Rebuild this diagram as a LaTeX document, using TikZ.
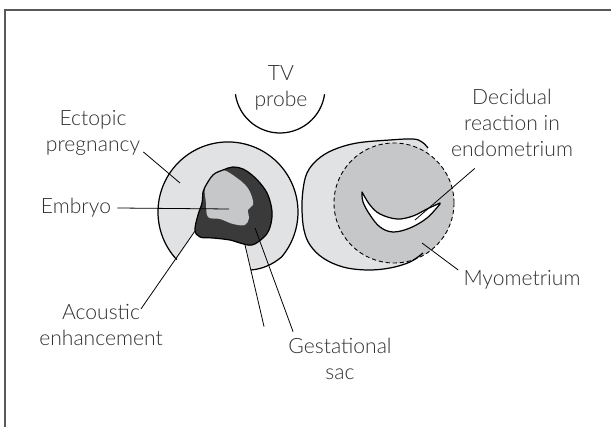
\documentclass[tikz,border=0pt]{standalone}
\usepackage{fontspec}
\setmainfont{Lato Light}

\definecolor{tissue}{HTML}{E1E2E4}
\definecolor{midgrey}{HTML}{C6C7C9}
\definecolor{sacdark}{HTML}{3A3A3A}
\definecolor{labelgrey}{HTML}{303030}

\begin{document}
\begin{tikzpicture}[%
    x = 0.2mm, y = -0.2mm,
    outline/.style = {draw = black, line width = 0.7pt, line join = round},
    leader/.style = {draw = black, line width = 0.45pt},
    caption/.style = {font = \fontsize{12}{15}\selectfont, text = labelgrey,
                      align = center, inner sep = 0pt}
]

        \useasboundingbox (0, 0) rectangle (611, 427);

        % Frame, only the top and left edges are inside the page.
        \draw[black!65, line width = 1pt] (5, 440) -- (5, 10) -- (620, 10);

        % Points where the leaders touch the drawing.
        \coordinate (ectoTip) at (180, 183);
        \coordinate (embTip) at (229, 209);
        \coordinate (acTop) at (195, 231);
        \coordinate (gsTop) at (245, 245);
        \coordinate (sacTip) at (255, 228);
        \coordinate (decTip) at (415, 220);
        \coordinate (myoTip) at (422, 243);

        % Ectopic pregnancy, the light tissue with the shadow cut out below the sac.
        \fill[tissue] (acTop) -- (176.8, 259.7)
            arc[start angle = 137, end angle = 400, radius = 70]
            .. controls (272, 265) and (262, 269) .. (251, 270) -- (gsTop) -- cycle;
        \draw[outline] (176.8, 259.7)
            arc[start angle = 137, end angle = 400, radius = 70]
            .. controls (272, 265) and (262, 269) .. (251, 270);

        % Gestational sac and the embryo inside it.
        \fill[sacdark] plot[smooth cycle, tension = 0.6] coordinates {
            (223, 170) (233, 167) (243, 169) (252, 175) (260, 183) (267, 193)
            (271, 205) (272, 217) (269, 230) (263, 238) (252, 245) (240, 243)
            (230, 240) (213, 238) (200, 237) (195, 230) (198, 215) (202, 203)
            (203, 192) (205, 187) (213, 175)};
        \fill[midgrey] plot[smooth cycle, tension = 0.6] coordinates {
            (223, 170) (237, 178) (247, 187) (252, 197) (253, 205) (248, 210)
            (249, 218) (245, 225) (233, 224) (220, 219) (208, 217) (206, 203)
            (205, 187) (213, 175)};
        \draw[outline] plot[smooth cycle, tension = 0.6] coordinates {
            (223, 170) (233, 167) (243, 169) (252, 175) (260, 183) (267, 193)
            (271, 205) (272, 217) (269, 230) (263, 238) (252, 245) (240, 243)
            (230, 240) (213, 238) (200, 237) (195, 230) (198, 215) (202, 203)
            (203, 192) (205, 187) (213, 175)};

        % Uterus, myometrium round the dashed endometrium.
        \fill[tissue] plot[smooth, tension = 0.6] coordinates {
            (428, 148) (422, 142) (413, 139) (390, 140) (357, 143) (333, 150)
            (317, 160) (307, 173) (303, 190) (302, 210) (304, 230) (310, 245)
            (323, 258) (343, 267) (367, 270) (390, 268) (410, 262) (423, 253)}
            -- cycle;
        \fill[midgrey] (394, 203) circle[radius = 60];
        \draw[outline] plot[smooth, tension = 0.6] coordinates {
            (428, 148) (422, 142) (413, 139) (390, 140) (357, 143) (333, 150)
            (317, 160) (307, 173) (303, 190) (302, 210) (304, 230) (310, 245)
            (323, 258) (343, 267) (367, 270) (390, 268) (410, 262) (423, 253)};
        \draw[black, line width = 0.5pt, dash pattern = {on 2.4pt off 1.6pt}]
            (394, 203) circle[radius = 60];

        % Crescent of the cavity.
        \filldraw[fill = white, outline]
            plot[smooth, tension = 0.6] coordinates {
                (362, 192) (370, 205) (380, 214) (397, 219) (413, 216) (427, 209) (440, 203)}
            -- plot[smooth, tension = 0.6] coordinates {
                (440, 204) (427, 218) (410, 228) (393, 232) (380, 227) (370, 215) (363, 202) (362, 192)}
            -- cycle;

        % Probe.
        \draw[outline] (280, 88) ++(172:45) arc[start angle = 172, end angle = 8, radius = 45];

        % Labels.
        \node[caption] (probe) at (281, 88) {TV\\probe};
        \node[caption] (ectopic) at (93, 133) {Ectopic\\pregnancy};
        \node[caption] (embryo) at (76, 208) {Embryo};
        \node[caption] (acoustic) at (101, 325) {Acoustic\\enhancement};
        \node[caption] (gestsac) at (340, 359) {Gestational\\sac};
        \node[caption] (decidual) at (512, 123) {Decidual\\reaction in\\endometrium};
        \node[caption] (myo) at (522, 280) {Myometrium};

        % Leaders.
        \draw[leader] ([shift = {(3, 19)}]ectopic.east) -- (ectoTip);
        \draw[leader] ([xshift = 1.2mm]embryo.east) -- (embTip);
        \draw[leader] ([shift = {(-22, 5)}]acoustic.north east) -- (acTop);
        \draw[leader] ([shift = {(-24, -11)}]gestsac.north west) -- (gsTop);
        \draw[leader] ([shift = {(5, -6)}]gestsac.north west) -- (sacTip);
        \draw[leader] ([shift = {(24, 11)}]decidual.south west) -- (decTip);
        \draw[leader] ([shift = {(-5, -10)}]myo.west) -- (myoTip);

\end{tikzpicture}
\end{document}
